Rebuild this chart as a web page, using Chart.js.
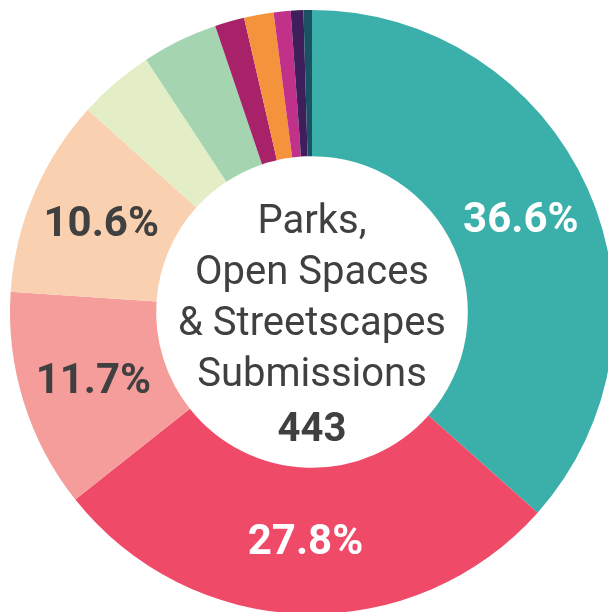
<!DOCTYPE html>
<html>
<head>
<meta charset="utf-8">
<script src="https://cdn.jsdelivr.net/npm/chart.js@4/dist/chart.umd.min.js"></script>
<style>
  html, body { margin: 0; padding: 0; background: #fff; overflow: hidden; }
  #wrap { position: absolute; left: 0; top: 0; width: 624px; height: 624px; }
</style>
</head>
<body>
<div id="wrap"><canvas id="donut"></canvas></div>
<script>
// submissions by category, clockwise from 12 o'clock
var categories = ["Category 1", "Category 2", "Category 3", "Category 4", "Category 5",
    "Category 6", "Category 7", "Category 8", "Category 9", "Category 10", "Category 11"];
var submissions = [162, 123, 52, 47, 18, 18, 7, 7, 4, 3, 2];
var sliceColors = ["#3BAFA9", "#EF4A68", "#F59D9B", "#FAD1B0", "#E3EEC7", "#A4D5B0",
    "#A8226A", "#F5933D", "#C1318A", "#3E1F5C", "#1B5263"];
var labelColors = ["#ffffff", "#ffffff", "#404040", "#404040"];
var centerLines = ["Parks,", "Open Spaces", "& Streetscapes", "Submissions"];
var total = submissions.reduce(function(a, b) { return a + b; }, 0);

var fontFace = "Roboto, 'Liberation Sans', sans-serif";

// percentage labels inside the big slices
var sliceLabels = {
    id: "sliceLabels",
    afterDatasetsDraw: function(chart) {
        var ctx = chart.ctx;
        var meta = chart.getDatasetMeta(0);
        ctx.save();
        ctx.textAlign = "center";
        ctx.textBaseline = "middle";
        ctx.font = "bold 42px " + fontFace;
        meta.data.forEach(function(arc, i) {
            var pct = submissions[i] / total * 100;
            if (pct < 10) return;
            var p = arc.getCenterPoint();
            ctx.fillStyle = labelColors[i] || "#404040";
            ctx.fillText(pct.toFixed(1) + "%", p.x, p.y + 3);
        });
        ctx.restore();
    }
};

// title and total in the hole
var centerText = {
    id: "centerText",
    afterDatasetsDraw: function(chart) {
        var ctx = chart.ctx;
        var arc = chart.getDatasetMeta(0).data[0];
        var cx = arc.x, cy = arc.y;
        ctx.save();
        ctx.textAlign = "center";
        ctx.textBaseline = "alphabetic";
        ctx.fillStyle = "#404040";
        ctx.font = "40px " + fontFace;
        var top = cy - 79;
        centerLines.forEach(function(line, i) {
            ctx.fillText(line, cx, top + i * 51);
        });
        ctx.font = "bold 40px " + fontFace;
        ctx.fillText(String(total), cx, top + 4 * 51 + 4);
        ctx.restore();
    }
};

var chartData = {
    labels: categories,
    datasets: [{
        data: submissions,
        backgroundColor: sliceColors,
        borderWidth: 0
    }]
};

var config = {
    type: "doughnut",
    data: chartData,
    options: {
        responsive: true,
        maintainAspectRatio: false,
        animation: false,
        cutout: "51.6%",
        layout: { padding: 10 },
        plugins: {
            legend: { display: false },
            tooltip: { enabled: false }
        }
    },
    plugins: [sliceLabels, centerText]
};

var donutChart = new Chart(document.getElementById("donut"), config);
</script>
</body>
</html>
